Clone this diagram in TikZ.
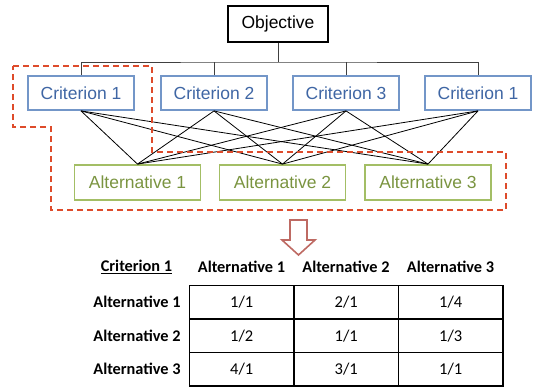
\documentclass[tikz,border=0pt]{standalone}
\usepackage{fontspec}
\setmainfont{Liberation Sans}
\newfontfamily\tabfont{Carlito}
\definecolor{critblue}{HTML}{7396C8}
\definecolor{crittext}{HTML}{3F66A4}
\definecolor{altgreen}{HTML}{A3BE65}
\definecolor{alttext}{HTML}{7A9440}
\definecolor{dashred}{HTML}{DE4B2B}
\definecolor{arrowred}{HTML}{BE6A63}
\tikzset{
  objbox/.style={draw=black, line width=2pt, minimum width=100pt, minimum height=36pt, inner sep=0pt, font=\fontsize{17.5}{20}\selectfont},
  critbox/.style={draw=critblue, line width=1.8pt, minimum width=106pt, minimum height=34pt, inner sep=0pt, text=crittext, font=\fontsize{17.5}{20}\selectfont},
  altbox/.style={draw=altgreen, line width=1.8pt, minimum width=126pt, minimum height=35pt, inner sep=0pt, text=alttext, font=\fontsize{17.5}{20}\selectfont},
  link/.style={draw=black, line width=0.8pt},
  tree/.style={draw=black!75, line width=1pt},
  cell/.style={draw=black, line width=1.3pt, minimum width=104.5pt, minimum height=33.6pt, inner sep=0pt, font=\tabfont\fontsize{16.5}{18}\selectfont},
  tlabel/.style={inner sep=0pt, font=\tabfont\bfseries\fontsize{16.3}{18}\selectfont},
}
\begin{document}
\begin{tikzpicture}[x=1pt,y=-1pt]
\useasboundingbox (0,0) rectangle (546,388);
% objective
\node[objbox] (obj) at (278,24) {Objective};
% criteria
\node[critbox] (c1) at (81,93) {Criterion 1};
\node[critbox] (c2) at (214,93) {Criterion 2};
\node[critbox] (c3) at (346,93) {Criterion 3};
\node[critbox] (c4) at (478,93) {Criterion 1};
% alternatives
\node[altbox] (a1) at (137.5,182.5) {Alternative 1};
\node[altbox] (a2) at (282.5,182.5) {Alternative 2};
\node[altbox] (a3) at (428,182.5) {Alternative 3};
% tree
\coordinate (bus) at (278,62);
\draw[tree] (obj.south) -- (bus);
\draw[tree] (c1.north) |- (bus) -| (c4.north);
\draw[tree] (c2.north) -- (c2.north |- bus);
\draw[tree] (c3.north) -- (c3.north |- bus);
% links
\foreach \c in {c1,c2,c3,c4}{
  \foreach \a in {a1,a2,a3}{
    \draw[link] (\c.south) -- (\a.north);
  }
}
% dashed outline
\draw[dashred, line width=1.8pt, dash pattern=on 6pt off 4pt]
  (13,66) -- (152,66) -- (152,152) -- (506,152) -- (506,210) -- (51,210) -- (51,127) -- (13,127) -- cycle;
% hollow arrow
\draw[arrowred, line width=1.6pt, fill=white, line join=miter]
  (290,220) -- (307,220) -- (307,240) -- (315,240) -- (298.5,255) -- (282,240) -- (290,240) -- cycle;
% table
\node[tlabel] (th0) at (136.5,267) {\underline{Criterion 1}};
\node[tlabel] (th1) at (241.5,267) {Alternative 1};
\node[tlabel] (th2) at (346,267) {Alternative 2};
\node[tlabel] (th3) at (450.5,267) {Alternative 3};
\node[tlabel] (r1) at (137,302) {Alternative 1};
\node[tlabel] (r2) at (137,336) {Alternative 2};
\node[tlabel] (r3) at (137,369) {Alternative 3};
\node[cell] (m11) at (241.75,302.1) {1/1};
\node[cell] (m12) at (346.25,302.1) {2/1};
\node[cell] (m13) at (450.75,302.1) {1/4};
\node[cell] (m21) at (241.75,335.7) {1/2};
\node[cell] (m22) at (346.25,335.7) {1/1};
\node[cell] (m23) at (450.75,335.7) {1/3};
\node[cell] (m31) at (241.75,369.3) {4/1};
\node[cell] (m32) at (346.25,369.3) {3/1};
\node[cell] (m33) at (450.75,369.3) {1/1};
\end{tikzpicture}
\end{document}
